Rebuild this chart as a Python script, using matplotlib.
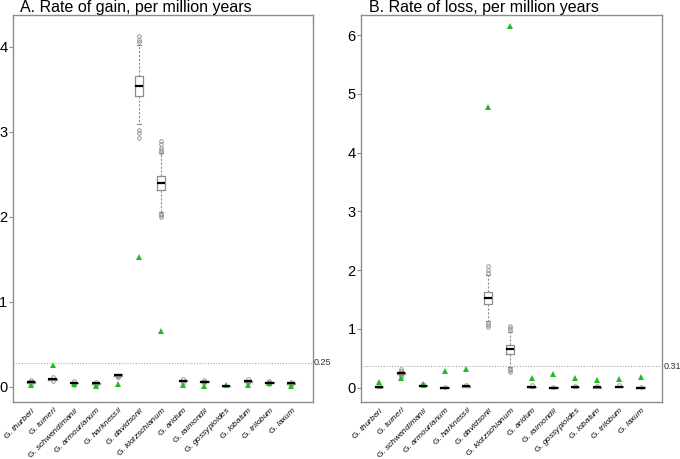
import matplotlib
matplotlib.use("Agg")
import matplotlib.pyplot as plt

plt.rcParams['font.family'] = ['Liberation Sans', 'DejaVu Sans']
plt.rcParams['mathtext.fontset'] = 'custom'
plt.rcParams['mathtext.rm'] = 'Liberation Sans'
plt.rcParams['mathtext.it'] = 'Liberation Sans:italic'

species = ["thurberi", "turneri", "schwendimanii", "armourianum", "harknessii",
           "davidsonii", "klotzschianum", "aridum", "raimondii", "gossypioides",
           "lobatum", "trilobum", "laxum"]

# rate of gain: simulated distribution summaries (q1, median, q3, whisker low, whisker high)
gain_med = [0.06, 0.09, 0.045, 0.04, 0.14, 3.54, 2.40, 0.07, 0.06, 0.01, 0.065, 0.05, 0.04]
gain_q1 = [0.05, 0.085, 0.04, 0.035, 0.13, 3.42, 2.31, 0.065, 0.055, 0.005, 0.06, 0.045, 0.035]
gain_q3 = [0.065, 0.095, 0.05, 0.045, 0.145, 3.655, 2.48, 0.075, 0.065, 0.015, 0.07, 0.055, 0.045]
gain_lo = [0.04, 0.08, 0.03, 0.025, 0.12, 3.09, 2.06, 0.055, 0.045, 0.0, 0.05, 0.035, 0.025]
gain_hi = [0.075, 0.10, 0.06, 0.055, 0.155, 4.02, 2.745, 0.085, 0.075, 0.02, 0.08, 0.065, 0.055]
gain_fliers = [[0.03, 0.08], [0.07, 0.11], [0.02, 0.07], [0.02, 0.06], [0.11, 0.12],
               [4.05, 4.08, 4.13, 3.02, 2.99, 2.93], [2.76, 2.79, 2.81, 2.85, 2.89, 2.0, 2.02, 2.03],
               [0.05, 0.09], [0.04, 0.08], [], [0.04, 0.09], [0.03, 0.07], [0.02, 0.06]]
gain_obs = [0.02, 0.26, 0.03, 0.005, 0.03, 1.53, 0.66, 0.02, 0.01, 0.02, 0.02, 0.04, 0.01]

# rate of loss
loss_med = [0.01, 0.255, 0.035, 0.0, 0.025, 1.52, 0.65, 0.015, 0.0, 0.01, 0.005, 0.02, 0.0]
loss_q1 = [0.005, 0.24, 0.03, 0.0, 0.02, 1.42, 0.57, 0.01, 0.0, 0.005, 0.0, 0.015, 0.0]
loss_q3 = [0.015, 0.265, 0.04, 0.005, 0.03, 1.62, 0.72, 0.02, 0.005, 0.015, 0.01, 0.025, 0.005]
loss_lo = [0.0, 0.22, 0.02, 0.0, 0.01, 1.13, 0.35, 0.0, 0.0, 0.0, 0.0, 0.005, 0.0]
loss_hi = [0.025, 0.28, 0.05, 0.01, 0.04, 1.91, 0.95, 0.03, 0.01, 0.025, 0.02, 0.035, 0.01]
loss_fliers = [[0.03], [0.19, 0.21, 0.29, 0.31], [0.06], [0.02], [0.05],
               [1.95, 2.0, 2.07, 1.03, 1.06, 1.1], [0.98, 1.02, 1.05, 0.27, 0.3, 0.32],
               [0.04], [0.02], [0.03], [0.03], [0.05], [0.02]]
loss_obs = [0.10, 0.16, 0.06, 0.29, 0.32, 4.77, 6.15, 0.16, 0.23, 0.17, 0.135, 0.145, 0.18]

gain_line, gain_line_label = 0.28, "0.25"
loss_line, loss_line_label = 0.365, "0.31"

labels = ["G. $\\it{" + s + "}$" for s in species]
grey = "#8c8c8c"


def panel(ax, med, q1, q3, lo, hi, fl, obs, hline, hlabel, title, ylim, yticks):
    stats = []
    for i in range(len(species)):
        stats.append(dict(med=med[i], q1=q1[i], q3=q3[i], whislo=lo[i], whishi=hi[i],
                          fliers=fl[i], label=labels[i]))
    pos = list(range(1, len(species) + 1))
    ax.bxp(stats, positions=pos, widths=0.38,
           boxprops=dict(color=grey, linewidth=0.9),
           medianprops=dict(color="black", linewidth=1.6),
           whiskerprops=dict(color=grey, linewidth=0.8, linestyle=(0, (2, 1.5))),
           capprops=dict(color=grey, linewidth=0.8),
           capwidths=0.19,
           flierprops=dict(marker="o", markersize=2.6, markerfacecolor="none",
                           markeredgecolor=grey, markeredgewidth=0.6))
    ax.plot(pos, obs, linestyle="none", marker="^", markersize=3.8, color="#22bb22",
            markeredgewidth=0)
    ax.axhline(hline, color="#aaaaaa", linestyle=(0, (1, 1.5)), linewidth=0.8)
    ax.text(1.004, hline, hlabel, transform=ax.get_yaxis_transform(), fontsize=6.5,
            va="center", ha="left", color="#333333")
    ax.set_xlim(0.17, 14.0)
    ax.set_ylim(*ylim)
    ax.set_yticks(yticks)
    ax.tick_params(axis="y", length=3, width=0.8, color=grey, labelsize=10.5, pad=1)
    ax.tick_params(axis="x", length=0, labelsize=6.0, pad=2)
    ax.set_xticks(pos)
    ax.set_xticklabels(labels, rotation=45, ha="right", rotation_mode="anchor")
    for sp in ax.spines.values():
        sp.set_color(grey)
        sp.set_linewidth(1.0)
    ax.set_title(title, loc="left", fontsize=11.5, pad=2, x=0.025)


fig = plt.figure(figsize=(6.8, 4.59), dpi=100)
axA = fig.add_axes([0.019, 0.124, 0.441, 0.843])
axB = fig.add_axes([0.531, 0.124, 0.443, 0.843])

panel(axA, gain_med, gain_q1, gain_q3, gain_lo, gain_hi, gain_fliers, gain_obs,
      gain_line, gain_line_label, "A. Rate of gain, per million years", (-0.18, 4.37), [0, 1, 2, 3, 4])
panel(axB, loss_med, loss_q1, loss_q3, loss_lo, loss_hi, loss_fliers, loss_obs,
      loss_line, loss_line_label, "B. Rate of loss, per million years", (-0.245, 6.34), [0, 1, 2, 3, 4, 5, 6])

fig.savefig("out.png", dpi=100)
